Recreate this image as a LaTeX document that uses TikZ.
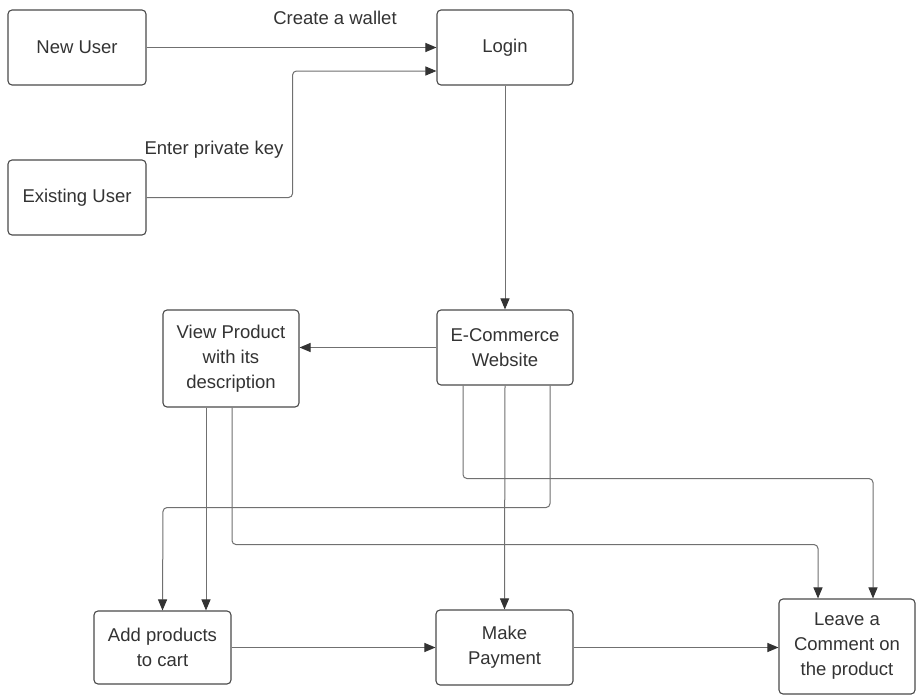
\documentclass[tikz,border=0pt]{standalone}
\usepackage{fontspec}
\setmainfont{Liberation Sans}
\usetikzlibrary{arrows.meta,calc}
\definecolor{boxc}{HTML}{4A4A4A}
\definecolor{linec}{HTML}{707070}
\definecolor{tipc}{HTML}{333333}
\definecolor{txt}{HTML}{333333}
\tikzset{
  box/.style={draw=boxc, line width=1.1pt, rounded corners=4pt, minimum width=137pt,
    minimum height=75pt, align=center, text=txt, inner sep=0pt,
    font=\fontsize{18.5}{25}\selectfont},
  lbl/.style={text=txt, inner sep=0pt, font=\fontsize{18.5}{25}\selectfont},
  conn/.style={draw=linec, line width=1pt, rounded corners=4pt,
    -{Triangle[length=11pt,width=9pt,color=tipc]}}
}
\begin{document}
\begin{tikzpicture}[x=1pt,y=-1pt]
\useasboundingbox[fill=white] (0,0) rectangle (916,696);
\node[box, minimum width=138pt] (newuser) at (77,47.5) {New User};
\node[box, minimum width=136pt] (login) at (505,47.5) {Login};
\node[box, minimum width=138pt] (existing) at (77,197.5) {Existing User};
\node[box, minimum width=136pt] (ecom) at (505,347.5) {E-Commerce\\Website};
\node[box, minimum width=136pt, minimum height=97pt] (view) at (231,358.5) {View Product\\with its\\description};
\node[box, minimum width=137pt, minimum height=73pt] (add) at (162.5,647.5) {Add products\\to cart};
\node[box, minimum width=137pt, minimum height=75pt] (pay) at (504.5,647.5) {Make\\Payment};
\node[box, minimum width=136pt, minimum height=95pt] (leave) at (847,646.5) {Leave a\\Comment on\\the product};
\node[lbl] (lwallet) at (335,18) {Create a wallet};
\node[lbl] (lkey) at (214,150) {Enter private key};

\draw[conn] (newuser.east) -- (login.west);
\draw[conn] (existing.east) -- ++(146,0) |- ([yshift=-23.5pt]login.west);
\draw[conn] (login.south) -- (ecom.north);
\draw[conn] (ecom.west) -- (view.east |- ecom.west);
\draw[conn] ([xshift=-25pt]view.south) -- ([xshift=43.5pt]add.north);
\draw[conn] ([xshift=1pt]view.south) |- ++(586,137) -- ([xshift=-29pt]leave.north);
\draw[conn] ([xshift=-42pt]ecom.south) |- ++(410,93) -- ([xshift=26pt]leave.north);
\draw[conn] (ecom.south) -- (pay.north);
\draw[conn] ([xshift=45pt]ecom.south) |- ++(-387,122) -- (add.north);
\draw[conn] (add.east) -- (pay.west);
\draw[conn] (pay.east) -- (leave.west |- pay.east);
\end{tikzpicture}
\end{document}
